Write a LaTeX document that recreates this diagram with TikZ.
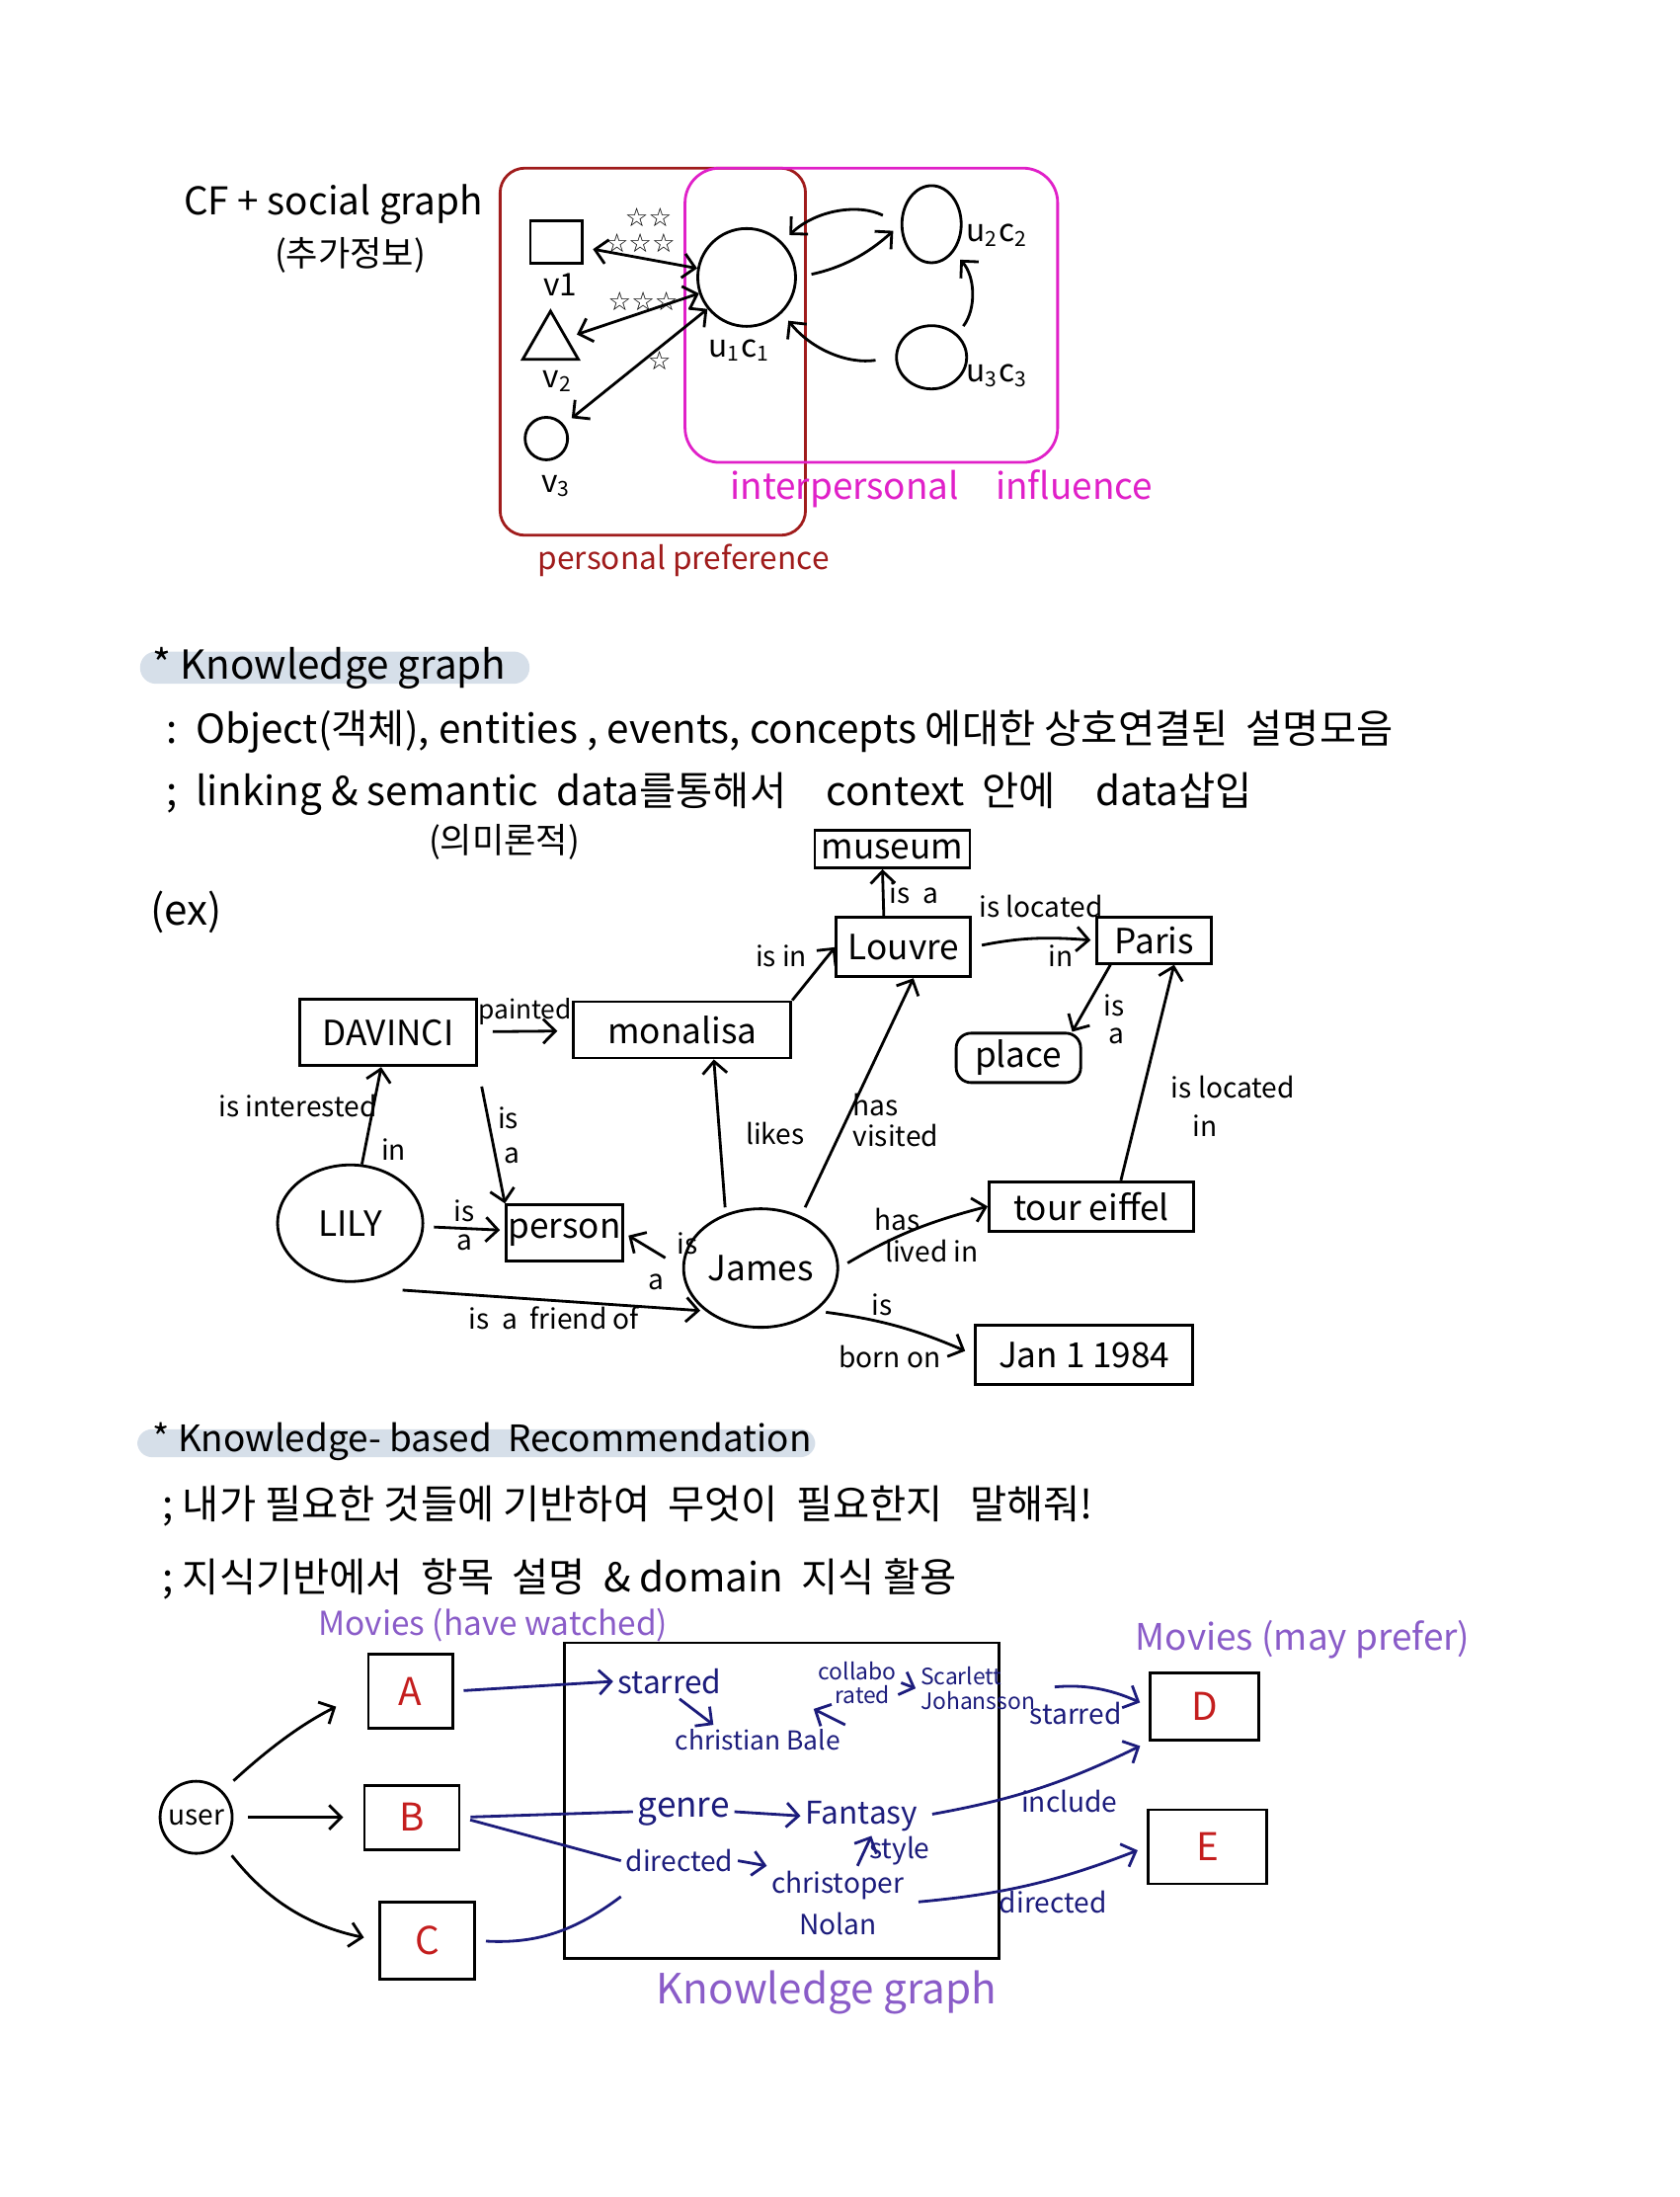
\documentclass[tikz,border=0pt]{standalone}
\usepackage{fontspec}
\setmainfont{Noto Sans CJK KR}
\newfontfamily\symfont{DejaVu Sans}
\usetikzlibrary{arrows.meta,shapes.geometric,positioning}
\definecolor{prefred}{HTML}{A01C1C}
\definecolor{inflmag}{HTML}{E020C8}
\definecolor{inknavy}{HTML}{1C1C7C}
\definecolor{notepurple}{HTML}{8A5CC8}
\definecolor{letterred}{HTML}{C41E1E}
\definecolor{markband}{HTML}{D6DFE9}

\begin{document}
\begin{tikzpicture}[x=0.1418mm, y=-0.1418mm, line width=0.8pt,
  >={Straight Barb[length=3.5pt,width=7pt]},
  link/.style={->, line width=0.8pt},
  both/.style={<->, line width=0.8pt},
  shp/.style={draw, line width=0.8pt, inner sep=0pt},
  obj/.style={draw, line width=0.8pt, inner sep=0pt, font=\fontsize{10}{12}\selectfont},
  lbl/.style={font=\fontsize{8}{9}\selectfont, inner sep=1.5pt},
  tag/.style={font=\fontsize{9}{10}\selectfont, inner sep=0pt},
  note/.style={font=\fontsize{11.5}{13}\selectfont, inner sep=0pt, anchor=west},
  head/.style={font=\fontsize{11.5}{14}\selectfont, inner sep=0pt, anchor=west},
  stars/.style={font=\symfont\fontsize{7.5}{7.5}\selectfont, inner sep=1pt},
  pen/.style={draw=inknavy, line width=0.8pt},
  penlbl/.style={text=inknavy, font=\fontsize{8}{9}\selectfont, inner sep=1pt},
  movie/.style={draw, line width=0.8pt, text=letterred, font=\fontsize{11}{13}\selectfont},
  purple/.style={text=notepurple, inner sep=0pt}]
\useasboundingbox (0,0) rectangle (1199,1568);

\node[font=\fontsize{11}{13}\selectfont, inner sep=0pt] (cf) at (238,146) {CF + social graph};
\node[font=\fontsize{10}{12}\selectfont, inner sep=0pt] (cfkr) at (250,182) {(추가정보)};
\draw[prefred, rounded corners=2.5mm] (357,120) rectangle (575,382);
\draw[inflmag, rounded corners=3.5mm] (489,120) rectangle (755,330);
\node[text=prefred, font=\fontsize{9}{11}\selectfont] (pref) at (488,400) {personal preference};
\node[text=inflmag, font=\fontsize{10.5}{12}\selectfont] (infl) at (672,349) {interpersonal\quad influence};

\node[shp, minimum width=5.2mm, minimum height=4.3mm] (v1) at (397,173) {};
\node[shp, regular polygon, regular polygon sides=3, minimum size=6.5mm] (v2) at (393,245) {};
\node[shp, circle, minimum size=4.3mm] (v3) at (390,313) {};
\node[shp, circle, minimum size=9.9mm] (u1) at (533,198) {};
\node[shp, ellipse, minimum width=6mm, minimum height=7.8mm] (u2) at (665,160) {};
\node[shp, ellipse, minimum width=7.1mm, minimum height=6.4mm] (u3) at (665,255) {};
\node[tag] (v1t) at (400,203) {v1};
\node[tag] (v2t) at (398,272) {v\textsubscript{2}};
\node[tag] (v3t) at (397,347) {v\textsubscript{3}};
\node[tag] (u1t) at (528,250) {u\textsubscript{1}c\textsubscript{1}};
\node[tag] (u2t) at (712,168) {u\textsubscript{2}c\textsubscript{2}};
\node[tag] (u3t) at (712,268) {u\textsubscript{3}c\textsubscript{3}};

\draw[both, shorten <=1mm] (v1) -- node[stars, above, align=center] (s1) {\ \ ☆☆\\☆☆☆} (u1);
\draw[both, shorten <=1mm] (v2) -- node[stars, above, xshift=1mm] (s2) {☆☆☆} (u1);
\draw[both, shorten <=1mm] (v3) -- node[stars, right, pos=0.55] (s3) {☆} (u1);
\draw[link, shorten <=2mm, shorten >=1mm] (u2.west) to[bend right=35] (u1.north east);
\draw[link, shorten <=1.5mm, shorten >=1mm] (u1.east) to[bend right=15] (u2.west);
\draw[link, shorten <=2mm, shorten >=1mm] (u3.west) to[bend left=30] (u1.south east);
\draw[link, shorten <=1mm, shorten >=1mm] (u3.north east) to[bend right=40] (u2.south east);

\fill[markband, rounded corners=1.6mm] (100,465) rectangle (378,488);
\node[head] (kgh) at (108,477) {* Knowledge graph};
\node[note] (kg1) at (118,522) {:\ \ Object(객체),\ entities\ , events, concepts 에대한 상호연결된\ \ 설명모음};
\node[note] (kg2) at (118,567) {;\ \ linking \& semantic\ \ data를통해서\quad context\ \ 안에\quad data삽입};
\node[font=\fontsize{10}{12}\selectfont] (kg2b) at (360,601) {(의미론적)};
\node[font=\fontsize{12}{14}\selectfont] (ex) at (133,651) {(ex)};

\node[obj, minimum width=15.7mm, minimum height=3.8mm] (museum) at (637,606) {museum};
\node[obj, minimum width=13.6mm, minimum height=6mm] (louvre) at (645,676) {Louvre};
\node[obj, minimum width=11.6mm, minimum height=4.7mm] (paris) at (824,671) {Paris};
\node[obj, rounded corners=1.5mm, minimum width=12.6mm, minimum height=5mm] (place) at (727,755) {place};
\node[obj, minimum width=17.9mm, minimum height=6.7mm] (davinci) at (277,737) {DAVINCI};
\node[obj, minimum width=22mm, minimum height=5.7mm] (monalisa) at (487,735) {monalisa};
\node[obj, ellipse, minimum width=14.7mm, minimum height=11.8mm] (lily) at (250,873) {LILY};
\node[obj, minimum width=11.8mm, minimum height=5.7mm] (person) at (403,880) {person};
\node[obj, ellipse, minimum width=15.6mm, minimum height=12mm] (james) at (543,905) {James};
\node[obj, minimum width=20.7mm, minimum height=5mm] (eiffel) at (779,861) {tour eiffel};
\node[obj, minimum width=22mm, minimum height=6mm] (jan) at (774,967) {Jan 1 1984};

\draw[link] ([xshift=-2mm]louvre.north) -- node[lbl, right] (l1) {is\ \ a} ([xshift=-1mm]museum.south);
\draw[link] (monalisa.north east) -- node[lbl, above left] (l2) {is in} (louvre.west);
\draw[link, shorten <=1mm] (louvre.east) to[bend left=8] node[lbl, above, xshift=1mm, yshift=1.5mm] (l3) {is located} node[lbl, below, xshift=3mm] (l3b) {in} ([xshift=-0.5mm]paris.west);
\draw[link] ([xshift=1.5mm]paris.south west) -- node[lbl, right, pos=0.6, xshift=1mm] (l4) {is} node[lbl, below right, pos=1, xshift=3mm, yshift=1mm] (l4b) {a} ([xshift=-1mm]place.north east);
\draw[link] ([xshift=3mm]eiffel.north) -- node[lbl, right, pos=0.45, xshift=2mm, yshift=-0.4mm] (l5) {is located} node[lbl, right, pos=0.3, xshift=5mm, yshift=-1mm] (l5b) {in} ([xshift=2mm]paris.south);
\draw[link, shorten <=1.5mm, shorten >=1.5mm] (davinci) -- node[lbl, above, font=\fontsize{7.5}{9}\selectfont] (l6) {painted} (monalisa);
\draw[link, shorten <=2mm] (davinci.south east) -- node[lbl, right, align=left] (l7) {is\\[1pt]\ a} (person.north west);
\draw[link] (lily) -- node[lbl, left, pos=0.6, xshift=1mm] (l8) {is interested} node[lbl, right, pos=0.15, xshift=1mm] (l8b) {in} (davinci);
\draw[link, shorten <=1mm, shorten >=0.5mm] (lily) -- node[lbl, above] (l9) {is} node[lbl, below] (l9b) {a} (person);
\draw[link, shorten <=2mm, shorten >=0.5mm] (james.west) -- node[lbl, above right, pos=0.2] (l10) {is} node[lbl, below, pos=0.45, yshift=-1.5mm] (l10b) {a} (person.east);
\draw[link] ([xshift=-3.6mm]james.north) -- node[lbl, right, xshift=2mm] (l11) {likes} ([xshift=3.2mm]monalisa.south);
\draw[link] ([xshift=4.5mm]james.north) -- node[lbl, right, align=left, pos=0.38] (l12) {has\\visited} ([xshift=1mm]louvre.south);
\draw[link, shorten <=1mm] (james.east) to[bend left=8] node[lbl, above, pos=0.4] (l13) {has} node[lbl, below, pos=0.65, yshift=-1mm] (l13b) {lived in} (eiffel.west);
\draw[link, shorten <=1mm, shorten >=1mm] (james.south east) to[bend left=8] node[lbl, above, pos=0.4] (l14) {is} node[lbl, below, pos=0.45, yshift=-1.5mm] (l14b) {born on} (jan.west);
\draw[link, shorten >=0.5mm] ([yshift=-2.5mm]lily.south east) -- node[lbl, below, pos=0.5] (l15) {is\ \ a\ \ friend of} (james.south west);

\fill[markband, rounded corners=1.5mm] (98,1020) rectangle (582,1040);
\node[head, font=\fontsize{10.5}{13}\selectfont] (krh) at (108,1029) {* Knowledge- based\ \ Recommendation};
\node[note] (kr1) at (115,1075) {;\ 내가 필요한 것들에 기반하여\ \ 무엇이\ \ 필요한지\ \ \ 말해줘!};
\node[note] (kr2) at (115,1127) {;\ 지식기반에서\ \ 항목\ \ 설명\ \ \& domain\ \ 지식 활용};
\node[purple, font=\fontsize{9.5}{11}\selectfont] (watched) at (352,1160) {Movies (have watched)};
\node[purple, font=\fontsize{10.5}{12}\selectfont] (prefer) at (930,1170) {Movies (may prefer)};

\node[shp, circle, minimum size=7.3mm, font=\fontsize{8}{9}\selectfont] (user) at (140,1297) {user};
\node[movie, minimum width=8.5mm, minimum height=7.5mm] (A) at (293,1207) {A};
\node[movie, minimum width=9.6mm, minimum height=6.5mm] (B) at (294,1297) {B};
\node[movie, minimum width=9.6mm, minimum height=7.8mm] (C) at (305,1385) {C};
\node[movie, minimum width=11mm, minimum height=6.8mm] (D) at (860,1218) {D};
\node[movie, minimum width=12mm, minimum height=7.5mm] (E) at (862,1318) {E};
\node[shp, minimum width=44mm, minimum height=31.9mm] (kg) at (558,1285) {};
\node[purple, font=\fontsize{12}{14}\selectfont] (kgname) at (590,1422) {Knowledge graph};

\draw[link, shorten <=1.5mm, shorten >=3.5mm] (user.north east) to[bend left=8] (A.west);
\draw[link, shorten <=1.5mm, shorten >=2mm] (user.east) -- (B.west);
\draw[link, shorten <=1.5mm, shorten >=1.5mm] (user.south east) to[bend right=20] (C.west);

\node[penlbl, font=\fontsize{9}{10}\selectfont] (starred) at (478,1200) {starred};
\node[penlbl, font=\fontsize{7.5}{9}\selectfont] (bale) at (541,1242) {christian Bale};
\node[penlbl, font=\fontsize{6.5}{7}\selectfont, align=center] (rated) at (612,1201) {collabo\\\ \ rated};
\node[penlbl, font=\fontsize{6.5}{7}\selectfont, align=left] (scarlett) at (698,1205) {Scarlett\\Johansson};
\node[penlbl, font=\fontsize{10}{12}\selectfont] (genre) at (488,1293) {genre};
\node[penlbl, font=\fontsize{9}{10}\selectfont] (fantasy) at (615,1296) {Fantasy};
\node[penlbl, font=\fontsize{8}{9}\selectfont] (directed) at (485,1328) {directed};
\node[penlbl, font=\fontsize{8}{9}\selectfont, align=center] (nolan) at (598,1358) {christoper\\[3pt]Nolan};

\draw[pen, ->, shorten <=1mm] (A.east) -- (starred.west);
\draw[pen, shorten <=1mm] (B.east) -- (genre.west);
\draw[pen, shorten <=1mm] (B.east) -- (directed.west);
\draw[pen, shorten <=1mm] (C.east) to[bend right=20] ([yshift=-2mm]directed.south west);
\draw[pen, ->] ([xshift=1mm]starred.south) -- ([xshift=-4.5mm]bale.north);
\draw[pen, ->] (bale.north east) -- (rated.south west);
\draw[pen, ->] (rated.east) -- (scarlett.west);
\draw[pen, ->] (genre.east) -- (fantasy.west);
\draw[pen, ->] (directed.east) -- (nolan.north west);
\draw[pen, ->] ([xshift=2mm]nolan.north) -- node[penlbl, right] (style) {style} ([xshift=1mm]fantasy.south);
\draw[pen, ->, shorten <=1.5mm, shorten >=1mm] (scarlett.east) to[bend left=15] node[penlbl, below, pos=0.4, yshift=-1mm, xshift=-1mm] (e1) {starred} (D.west);
\draw[pen, ->, shorten <=1mm, shorten >=1mm] (fantasy.east) to[bend right=8] node[penlbl, below, pos=0.6, xshift=1mm, yshift=-0.5mm] (e2) {include} (D.south west);
\draw[pen, ->, shorten <=1mm, shorten >=1mm] (nolan.east) to[bend right=8] node[penlbl, below, pos=0.65, xshift=-1mm, yshift=-1mm] (e3) {directed} (E.west);
\end{tikzpicture}
\end{document}
